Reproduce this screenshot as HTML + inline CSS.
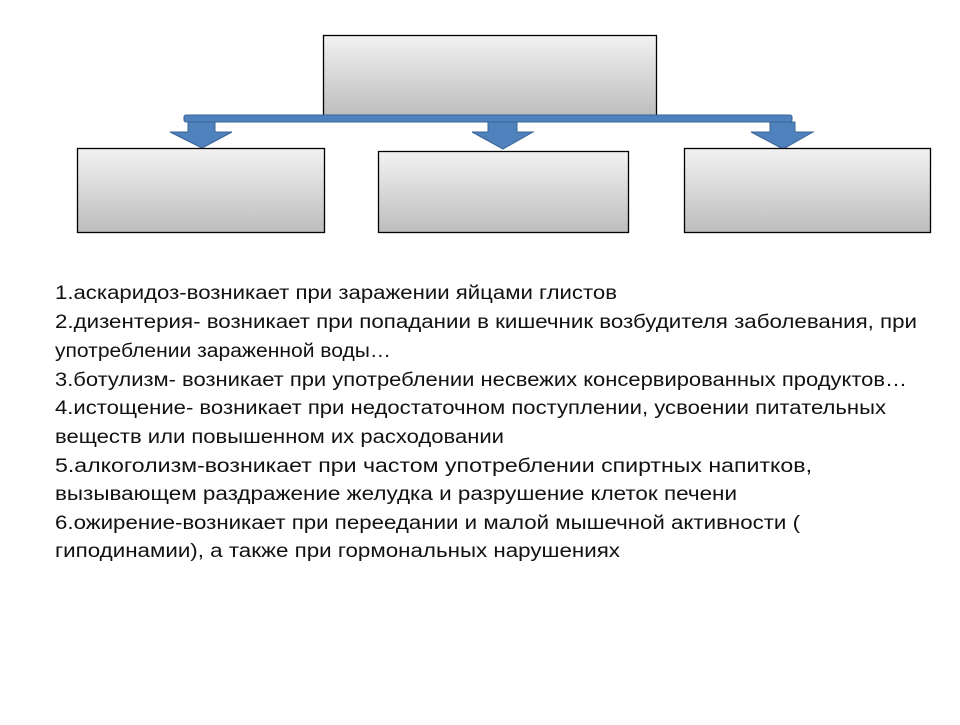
<!DOCTYPE html>
<html><head><meta charset="utf-8"><style>html,body{margin:0;padding:0;background:#fff}</style></head>
<body>
<svg width="960" height="720" xmlns="http://www.w3.org/2000/svg">
<defs>
<linearGradient id="g" x1="0" y1="0" x2="0" y2="1">
<stop offset="0" stop-color="#f2f2f2"/><stop offset="1" stop-color="#bdbdbd"/></linearGradient>
</defs>
<rect x="323.5" y="35.5" width="333" height="80" fill="url(#g)" stroke="#000" stroke-width="1.3"/>
<rect x="184" y="115" width="608" height="7" rx="2" fill="#4f81bd" stroke="#3a6597" stroke-width="1"/>
<g fill="#4f81bd" stroke="#3a6597" stroke-width="1">
<polygon points="188,122 215,122 215,132 232,132 202,148 170,132 188,132"/>
<polygon points="488,122 517,122 517,132 533,132 503,149 472,132 488,132"/>
<polygon points="770,122 795,122 795,132 813,132 783,149 751,132 770,132"/>
</g>
<rect x="77.5" y="148.5" width="247" height="84" fill="url(#g)" stroke="#000" stroke-width="1.3"/>
<rect x="378.5" y="151.5" width="250" height="81" fill="url(#g)" stroke="#000" stroke-width="1.3"/>
<rect x="684.5" y="148.5" width="246" height="84" fill="url(#g)" stroke="#000" stroke-width="1.3"/>
<g font-family="Liberation Sans, sans-serif" font-size="19" fill="#111" lengthAdjust="spacingAndGlyphs">
<text x="55" y="299" textLength="562" lengthAdjust="spacingAndGlyphs">1.аскаридоз-возникает при заражении яйцами глистов</text>
<text x="55" y="328" textLength="862" lengthAdjust="spacingAndGlyphs">2.дизентерия- возникает при попадании в кишечник возбудителя заболевания, при</text>
<text x="55" y="357" textLength="336" lengthAdjust="spacingAndGlyphs">употреблении зараженной воды…</text>
<text x="55" y="386" textLength="852" lengthAdjust="spacingAndGlyphs">3.ботулизм- возникает при употреблении несвежих консервированных продуктов…</text>
<text x="55" y="414" textLength="831" lengthAdjust="spacingAndGlyphs">4.истощение- возникает при недостаточном поступлении, усвоении питательных</text>
<text x="55" y="443" textLength="449" lengthAdjust="spacingAndGlyphs">веществ или повышенном их расходовании</text>
<text x="55" y="472" textLength="757" lengthAdjust="spacingAndGlyphs">5.алкоголизм-возникает при частом употреблении спиртных напитков,</text>
<text x="55" y="500" textLength="682" lengthAdjust="spacingAndGlyphs">вызывающем раздражение желудка и разрушение  клеток печени</text>
<text x="55" y="529" textLength="745" lengthAdjust="spacingAndGlyphs">6.ожирение-возникает при переедании и малой мышечной активности (</text>
<text x="55" y="557" textLength="565" lengthAdjust="spacingAndGlyphs">гиподинамии), а также при гормональных нарушениях</text>
</g>
</svg>
</body></html>
